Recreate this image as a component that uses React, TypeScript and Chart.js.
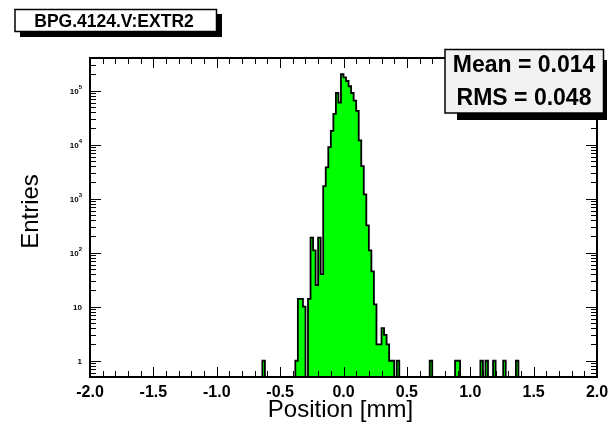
import React, { useEffect, useRef } from "react";
import { Chart, registerables } from "chart.js";

Chart.register(...registerables);

// ---- data ----
const X_MIN = -2;
const X_MAX = 2;
const BIN_WIDTH = 0.02;
const Y_MIN = 0.5;
const Y_MAX = 4e5;

// lower edges of the non-empty bins [mm]
const binLowEdges = [
  -0.64, -0.38, -0.36, -0.34, -0.32, -0.28, -0.26, -0.24, -0.22, -0.2, -0.18,
  -0.16, -0.14, -0.12, -0.1, -0.08, -0.06, -0.04, -0.02, 0.0, 0.02, 0.04, 0.06,
  0.08, 0.1, 0.12, 0.14, 0.16, 0.18, 0.2, 0.22, 0.24, 0.26, 0.28, 0.3, 0.32,
  0.34, 0.36, 0.38, 0.42, 0.68, 0.88, 0.9, 1.08, 1.12, 1.18, 1.26, 1.36,
];
// entries in those bins
const binCounts = [
  1, 1, 14, 14, 10, 14, 190, 110, 25, 190, 40,
  1700, 3800, 9000, 18000, 37000, 90000, 60000, 200000, 175000, 150000, 120000, 90000,
  65000, 42000, 12000, 4000, 1200, 320, 110, 45, 11, 2, 2, 4, 3,
  2, 1, 1, 1, 1, 1, 1, 1, 1, 1, 1, 1,
];

const xTickValues = [-2, -1.5, -1, -0.5, 0, 0.5, 1, 1.5, 2];
const xTickLabels = ["-2.0", "-1.5", "-1.0", "-0.5", "0.0", "0.5", "1.0", "1.5", "2.0"];
const yDecadeValues = [1, 10, 100, 1000, 10000, 100000];
const yDecadeBases = ["1", "10", "10", "10", "10", "10"];
const yDecadeExponents = ["", "", "2", "3", "4", "5"];

const histTitle = "BPG.4124.V:EXTR2";
const xTitle = "Position [mm]";
const yTitle = "Entries";
const statsLines = ["Mean = 0.014", "RMS = 0.048"];

const EMPTY = 0.01; // below the axis minimum: empty bins

function buildPoints() {
  const nBins = Math.round((X_MAX - X_MIN) / BIN_WIDTH);
  const counts: number[] = new Array(nBins).fill(EMPTY);
  binLowEdges.forEach((edge, i) => {
    const idx = Math.round((edge - X_MIN) / BIN_WIDTH);
    if (idx >= 0 && idx < nBins) counts[idx] = binCounts[i];
  });
  const pts: { x: number; y: number }[] = [];
  for (let i = 0; i < nBins; i++) {
    pts.push({ x: X_MIN + i * BIN_WIDTH, y: counts[i] });
  }
  pts.push({ x: X_MAX, y: counts[nBins - 1] });
  return pts;
}

const FONT = '"Liberation Sans", Arial, Helvetica, sans-serif';

const rootStylePlugin = {
  id: "rootStyle",
  beforeDraw(chart: any) {
    const ctx = chart.ctx;
    ctx.save();
    ctx.fillStyle = "#ffffff";
    ctx.fillRect(0, 0, chart.width, chart.height);
    ctx.restore();
  },
  afterDraw(chart: any) {
    const ctx: CanvasRenderingContext2D = chart.ctx;
    const { left, right, top, bottom } = chart.chartArea;
    const xs = chart.scales.x;
    const ys = chart.scales.y;
    ctx.save();
    ctx.strokeStyle = "#000";
    ctx.fillStyle = "#000";
    ctx.lineWidth = 1;
    const line = (x1: number, y1: number, x2: number, y2: number) => {
      ctx.beginPath();
      ctx.moveTo(x1, y1);
      ctx.lineTo(x2, y2);
      ctx.stroke();
    };
    // x ticks (bottom and top, inside)
    for (let k = -20; k <= 20; k++) {
      const px = Math.round(xs.getPixelForValue(k / 10)) + 0.5;
      const len = k % 5 === 0 ? 10 : 6;
      line(px, bottom, px, bottom - len);
      line(px, top, px, top + len);
    }
    // y ticks (left and right, inside)
    for (let e = -1; e <= 5; e++) {
      for (let m = 1; m <= 9; m++) {
        const v = m * Math.pow(10, e);
        if (v < Y_MIN || v > Y_MAX) continue;
        const py = Math.round(ys.getPixelForValue(v)) + 0.5;
        const len = m === 1 ? 11 : 6;
        line(left, py, left + len, py);
        line(right, py, right - len, py);
      }
    }
    // frame
    ctx.lineWidth = 2;
    ctx.strokeRect(left, top, right - left, bottom - top);

    // x tick labels
    ctx.font = `bold 16px ${FONT}`;
    ctx.textAlign = "center";
    ctx.textBaseline = "alphabetic";
    xTickValues.forEach((v, i) => {
      ctx.fillText(xTickLabels[i], xs.getPixelForValue(v), bottom + 20);
    });

    // y tick labels
    yDecadeValues.forEach((v, i) => {
      const py = ys.getPixelForValue(v);
      const base = yDecadeBases[i];
      const exp = yDecadeExponents[i];
      const rightEdge = left - 8;
      ctx.textAlign = "left";
      ctx.font = `bold 6px ${FONT}`;
      const ew = exp ? ctx.measureText(exp).width : 0;
      ctx.font = `bold 8px ${FONT}`;
      const bw = ctx.measureText(base).width;
      const x0 = rightEdge - bw - ew;
      ctx.fillText(base, x0, py + 3);
      if (exp) {
        ctx.font = `bold 6px ${FONT}`;
        ctx.fillText(exp, x0 + bw, py - 2);
      }
    });

    // axis titles
    ctx.font = `24px ${FONT}`;
    ctx.textAlign = "center";
    ctx.fillText(xTitle, (left + right) / 2 - 3, bottom + 40);
    ctx.save();
    ctx.translate(38, (top + bottom) / 2 - 6);
    ctx.rotate(-Math.PI / 2);
    ctx.fillText(yTitle, 0, 0);
    ctx.restore();

    // title box with shadow
    ctx.fillStyle = "#000";
    ctx.fillRect(20, 14, 202, 23);
    ctx.fillStyle = "#fff";
    ctx.fillRect(15, 9.5, 201.5, 22);
    ctx.lineWidth = 1.5;
    ctx.strokeRect(15, 9.5, 201.5, 22);
    ctx.fillStyle = "#000";
    ctx.font = `bold 17.5px ${FONT}`;
    ctx.textAlign = "center";
    ctx.fillText(histTitle, 114, 27);

    // stats box with shadow
    ctx.fillStyle = "#000";
    ctx.fillRect(457, 60, 150, 60);
    ctx.fillStyle = "#f2f2f2";
    ctx.fillRect(445, 49.5, 158.5, 63.5);
    ctx.lineWidth = 1.5;
    ctx.strokeRect(445, 49.5, 158.5, 63.5);
    ctx.fillStyle = "#000";
    ctx.font = `bold 23px ${FONT}`;
    ctx.fillText(statsLines[0], 524, 72);
    ctx.fillText(statsLines[1], 524, 105);
    ctx.restore();
  },
};

export default function App() {
  const canvasRef = useRef<HTMLCanvasElement | null>(null);
  useEffect(() => {
    if (!canvasRef.current) return;
    const chart = new Chart(canvasRef.current, {
      type: "line",
      data: {
        datasets: [
          {
            data: buildPoints(),
            stepped: true,
            fill: "start",
            backgroundColor: "#00ff00",
            borderColor: "#000000",
            borderWidth: 1.8,
            pointRadius: 0,
            tension: 0,
          },
        ],
      },
      options: {
        animation: false,
        responsive: false,
        maintainAspectRatio: false,
        parsing: false,
        layout: { padding: { left: 90, right: 11, top: 58, bottom: 50 } },
        scales: {
          x: { type: "linear", min: X_MIN, max: X_MAX, display: false },
          y: { type: "logarithmic", min: Y_MIN, max: Y_MAX, display: false },
        },
        plugins: {
          legend: { display: false },
          tooltip: { enabled: false },
          title: { display: false },
        },
      } as any,
      plugins: [rootStylePlugin],
    });
    return () => chart.destroy();
  }, []);
  return (
    <div style={{ position: "fixed", left: 0, top: 0, width: 608, height: 427, background: "#fff" }}>
      <canvas ref={canvasRef} width={608} height={427} style={{ display: "block", width: 608, height: 427 }} />
    </div>
  );
}
